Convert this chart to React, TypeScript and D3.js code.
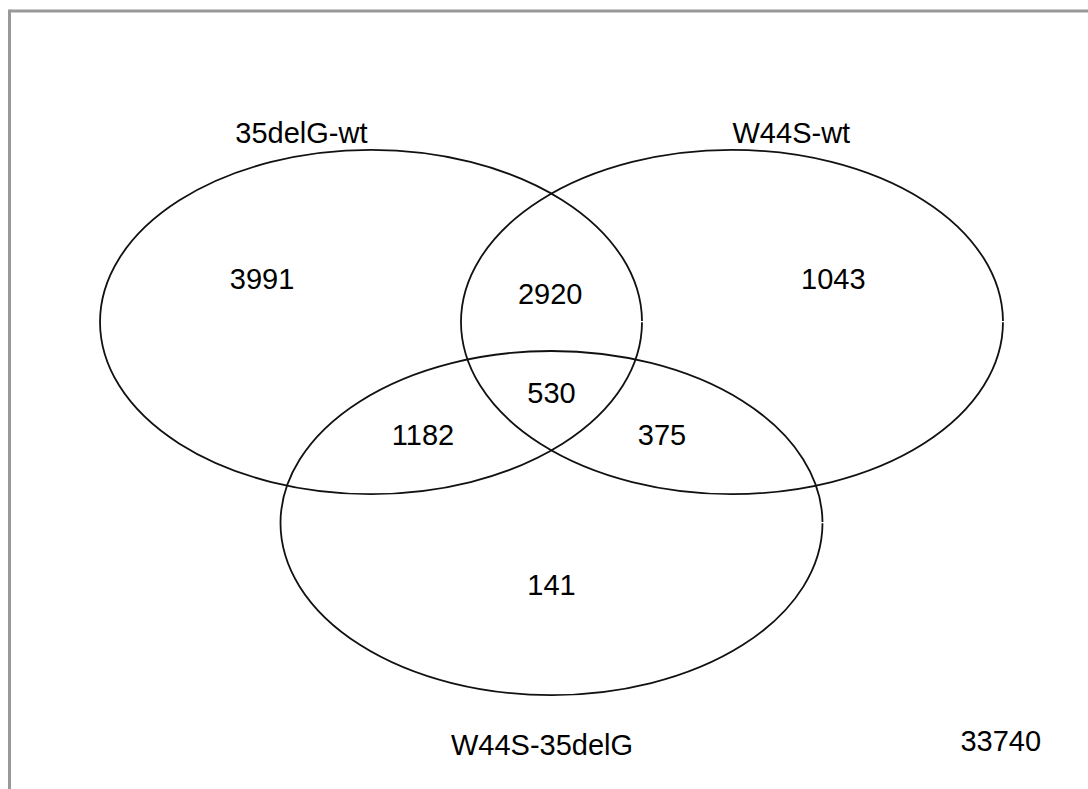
import React from "react";
import * as d3 from "d3";

// ---- data ----
const setNames = ["35delG-wt", "W44S-wt", "W44S-35delG"];
const regionKeys = ["A", "AB", "B", "ABC", "AC", "BC", "C", "none"];
const regionCounts = [3991, 2920, 1043, 530, 1182, 375, 141, 33740];

// ---- layout (venn unit space: 1 unit = ellipse x-radius) ----
const W = 1088;
const H = 789;
const ellipseCenters: [number, number][] = [[-0.666, 0], [0.666, 0], [0, 0.742]];
const ellipseRy = 0.635;
const labelPos: [number, number][] = [[-0.923, -0.7], [0.885, -0.7], [-0.035, 1.56]];
const regionPos: [number, number][] = [
  [-1.068, -0.16], [-0.005, -0.105], [1.04, -0.16], [0.0, 0.26],
  [-0.474, 0.415], [0.408, 0.415], [0.0, 0.97], [1.658, 1.545],
];

export default function App() {
  const x = d3.scaleLinear().domain([-1, 1]).range([280.5, 822.5]);
  const y = d3.scaleLinear().domain([-1, 1]).range([51, 593]);
  const rx = x(1) - x(0);
  const ry = y(ellipseRy) - y(0);
  const font = "'Liberation Sans', Arial, Helvetica, sans-serif";
  return (
    <svg width={W} height={H} style={{ position: "absolute", left: 0, top: 0, background: "#fff" }}>
      <line x1={9.5} y1={11} x2={W} y2={11} stroke="#999" strokeWidth={3} />
      <line x1={9.5} y1={9.5} x2={9.5} y2={H} stroke="#999" strokeWidth={3} />
      {ellipseCenters.map((c, i) => (
        <ellipse
          key={i}
          cx={x(c[0])}
          cy={y(c[1])}
          rx={rx}
          ry={ry}
          fill="none"
          stroke="#111"
          strokeWidth={1.8}
          pathLength={1000}
          strokeDasharray="999 1"
          strokeDashoffset={-0.2}
        />
      ))}
      {setNames.map((n, i) => (
        <text key={n} x={x(labelPos[i][0])} y={y(labelPos[i][1])} dy="0.36em" textAnchor="middle"
          fontFamily={font} fontSize={29} fill="#000">{n}</text>
      ))}
      {regionKeys.map((k, i) => (
        <text key={k} x={x(regionPos[i][0])} y={y(regionPos[i][1])} dy="0.36em" textAnchor="middle"
          fontFamily={font} fontSize={29} fill="#000">{regionCounts[i]}</text>
      ))}
    </svg>
  );
}
